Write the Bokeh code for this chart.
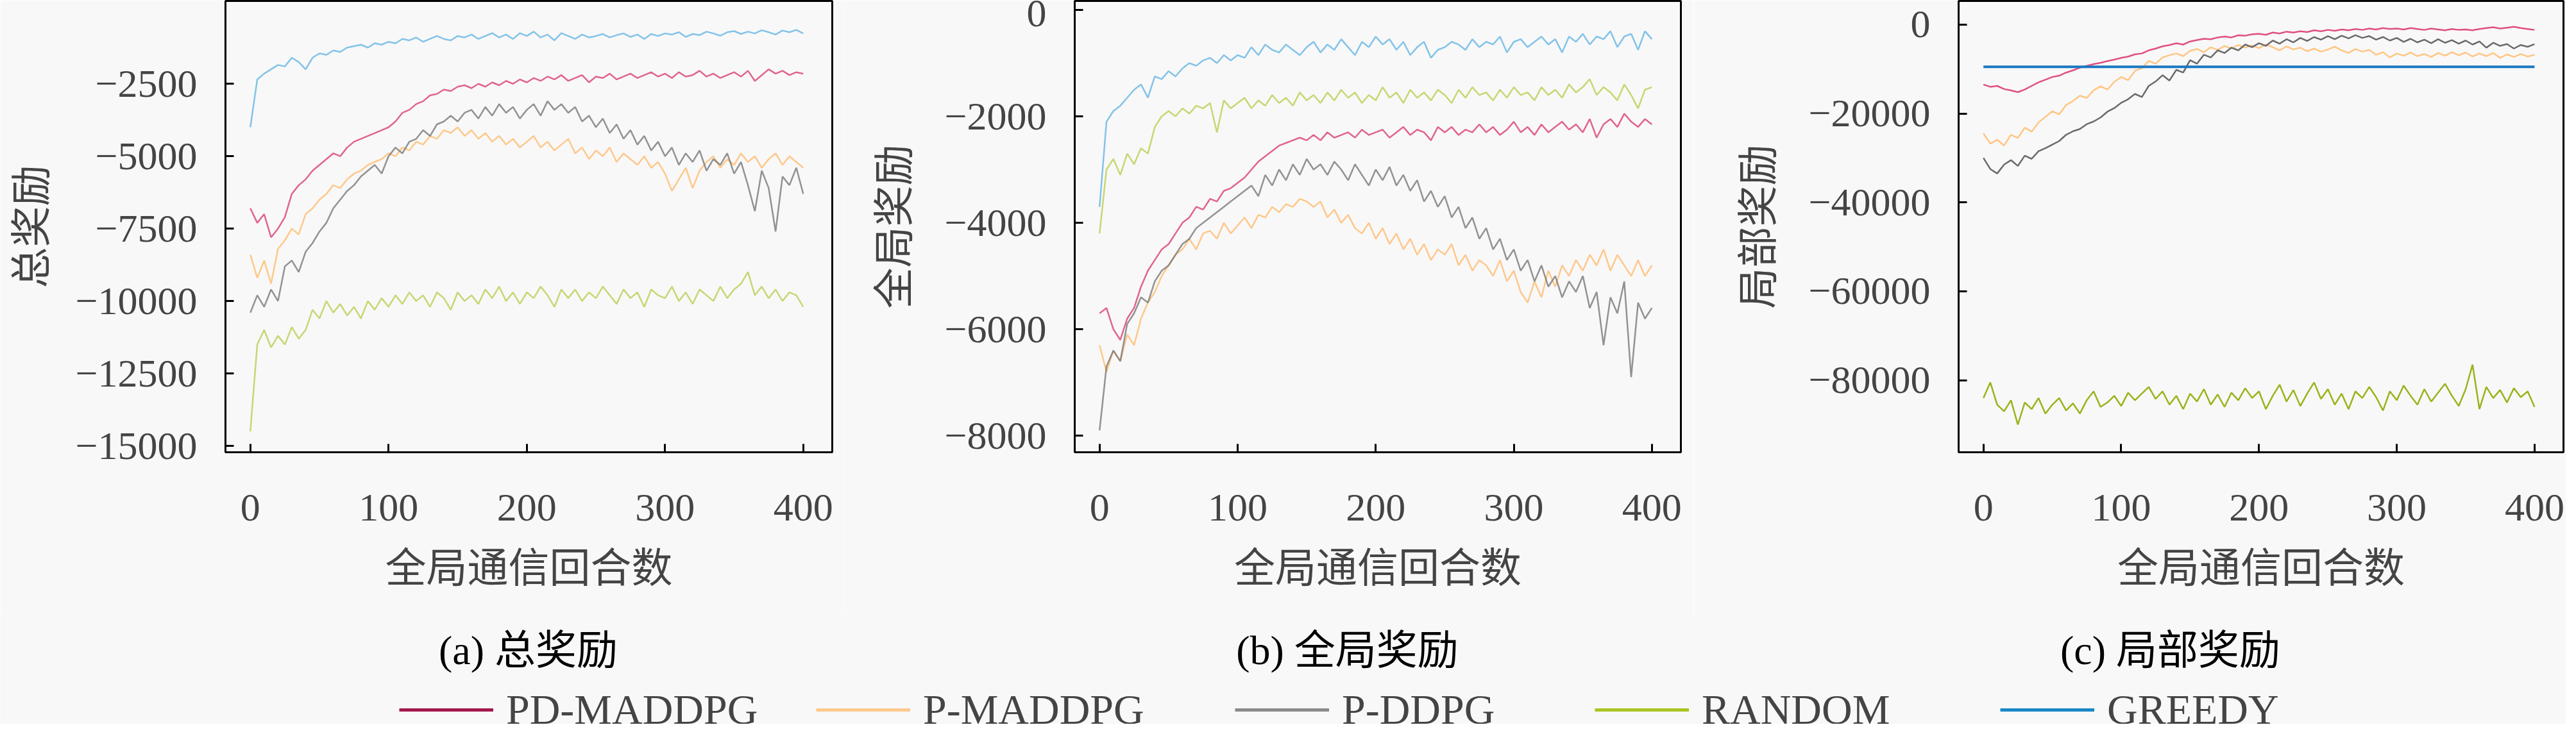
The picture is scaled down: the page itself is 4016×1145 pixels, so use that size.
from bokeh.core.properties import value
from bokeh.embed import file_html
from bokeh.layouts import column, row
from bokeh.models import FixedTicker, Legend, LegendItem, Range1d
from bokeh.plotting import figure
from bokeh.resources import INLINE

# episodes (global communication rounds), sampled every 5 rounds
EPISODES = list(range(0, 401, 5))
XTICKS = [0, 100, 200, 300, 400]
NAMES = ["PD-MADDPG", "P-MADDPG", "P-DDPG", "RANDOM", "GREEDY"]
SUBCAPTIONS = ["(a) 总奖励", "(b) 全局奖励", "(c) 局部奖励"]

# (a) total reward
A_PD_MADDPG = [
    -6800, -7300, -7000, -7800, -7500, -7100, -6300, -6000, -5800, -5500,
    -5300, -5100, -4900, -5000, -4700, -4500, -4400, -4300, -4200, -4100,
    -4000, -3800, -3500, -3400, -3200, -3100, -2900, -2850, -2700, -2750,
    -2600, -2550, -2650, -2500, -2600, -2450, -2550, -2400, -2500, -2350,
    -2450, -2300, -2400, -2250, -2350, -2200, -2400, -2300, -2200, -2450,
    -2250, -2300, -2150, -2350, -2250, -2150, -2300, -2200, -2100, -2250,
    -2150, -2300, -2100, -2250, -2200, -2050, -2250, -2150, -2300, -2200,
    -2100, -2250, -2050, -2400, -2200, -2000, -2150, -2050, -2200, -2100,
    -2150]
A_P_MADDPG = [
    -8400, -9200, -8600, -9400, -8200, -7900, -7500, -7700, -7000, -6800,
    -6500, -6300, -6000, -6100, -5800, -5600, -5500, -5300, -5200, -5100,
    -4900, -5000, -4700, -4800, -4500, -4600, -4300, -4400, -4100, -4200,
    -4000, -4300, -4100, -4400, -4200, -4500, -4300, -4600, -4400, -4700,
    -4500, -4300, -4700, -4500, -4800, -4600, -4400, -4900, -4700, -5100,
    -4800, -5000, -4700, -5200, -4900, -5100, -5300, -5000, -5400, -5200,
    -5600, -6200, -5800, -5400, -6100, -5500, -5200, -5000, -5400, -5100,
    -5300, -4900, -5200, -5000, -5400, -5100, -4900, -5300, -5000, -5200,
    -5400]
A_P_DDPG = [
    -10400, -9800, -10200, -9600, -10000, -8800, -8600, -9000, -8300, -8000,
    -7600, -7300, -6800, -6500, -6200, -6000, -5700, -5500, -5300, -5600,
    -5000, -4700, -4900, -4500, -4400, -4100, -4300, -3900, -3800, -3600,
    -3800, -3500, -3400, -3700, -3300, -3600, -3200, -3500, -3300, -3700,
    -3400, -3200, -3600, -3100, -3400, -3200, -3500, -3300, -3800, -3600,
    -4000, -3700, -4200, -3900, -4400, -4100, -4600, -4300, -4800, -4500,
    -5000, -4700, -5300, -4900, -5200, -4800, -5500, -5100, -5300, -4900,
    -5600, -5200, -6000, -6900, -5500, -6100, -7600, -5700, -6000, -5400,
    -6300]
A_RANDOM = [
    -14500, -11500, -11000, -11600, -11200, -11500, -10900, -11300, -11000, -10300,
    -10600, -10000, -10400, -10100, -10500, -10200, -10600, -10000, -10300, -9900,
    -10200, -9800, -10100, -9700, -10000, -9800, -10200, -9700, -9900, -10300,
    -9700, -10000, -9800, -10100, -9600, -9900, -9500, -10000, -9700, -10100,
    -9700, -9900, -9500, -9800, -10200, -9600, -9900, -9600, -10000, -9700,
    -9900, -9500, -9800, -10100, -9600, -9900, -9700, -10200, -9600, -9800,
    -9900, -9500, -10000, -9700, -10100, -9600, -9800, -10000, -9500, -9900,
    -9600, -9400, -9000, -9800, -9500, -9900, -9600, -10000, -9700, -9800,
    -10200]
A_GREEDY = [
    -4000, -2350, -2150, -2000, -1850, -1900, -1600, -1750, -2000, -1600,
    -1450, -1500, -1350, -1400, -1250, -1200, -1150, -1250, -1100, -1150,
    -1050, -1100, -950, -1000, -900, -1050, -950, -850, -950, -1000,
    -850, -900, -800, -950, -850, -750, -900, -800, -950, -750,
    -850, -700, -900, -800, -1000, -750, -850, -950, -800, -900,
    -850, -780, -900, -820, -760, -880, -800, -950, -780, -850,
    -760, -800, -720, -880, -780, -820, -700, -760, -840, -720,
    -680, -780, -700, -760, -650, -720, -800, -660, -720, -640,
    -760]

# (b) global reward
B_PD_MADDPG = [
    -5700, -5600, -6000, -6200, -5800, -5600, -5200, -4900, -4700, -4500,
    -4400, -4200, -4000, -3900, -3700, -3750, -3550, -3600, -3400, -3350,
    -3250, -3150, -3000, -2850, -2750, -2650, -2550, -2500, -2450, -2400,
    -2450, -2350, -2450, -2300, -2400, -2350, -2300, -2400, -2250, -2350,
    -2300, -2250, -2400, -2300, -2200, -2350, -2250, -2300, -2450, -2200,
    -2300, -2200, -2350, -2250, -2300, -2150, -2300, -2200, -2350, -2250,
    -2100, -2300, -2200, -2350, -2150, -2300, -2200, -2100, -2250, -2150,
    -2300, -2050, -2400, -2150, -2050, -2200, -1950, -2100, -2200, -2050,
    -2150]
B_P_MADDPG = [
    -6300, -6800, -6400, -6600, -6100, -6300, -5800, -5500, -5300, -5000,
    -4800, -4600, -4500, -4300, -4500, -4200, -4150, -4300, -4000, -4200,
    -4050, -3900, -4100, -3850, -3900, -3700, -3800, -3650, -3700, -3550,
    -3600, -3700, -3600, -3900, -3750, -4000, -3850, -4100, -4200, -4000,
    -4300, -4100, -4400, -4200, -4500, -4300, -4600, -4400, -4700, -4500,
    -4600, -4400, -4800, -4600, -4900, -4700, -4800, -5000, -4700, -5100,
    -4900, -5300, -5500, -5100, -5400, -4900, -5200, -4800, -5000, -4700,
    -4900, -4600, -4800, -4500, -4900, -4600, -4800, -5000, -4700, -5000,
    -4800]
B_P_DDPG = [
    -7900, -6700, -6400, -6600, -5900, -5700, -5400, -5500, -5100, -4900,
    -4800, -4600, -4400, -4300, -4100, -4000, -3900, -3800, -3700, -3600,
    -3500, -3400, -3300, -3500, -3100, -3300, -3000, -3200, -2900, -3100,
    -2800, -3000, -2900, -3100, -2850, -3000, -3200, -2900, -3100, -3300,
    -3000, -3200, -2950, -3300, -3100, -3400, -3200, -3600, -3400, -3700,
    -3500, -3900, -3700, -4100, -3900, -4300, -4100, -4500, -4300, -4700,
    -4500, -4900, -4700, -5100, -4800, -5200, -5000, -5400, -5100, -5300,
    -5000, -5600, -5300, -6300, -5400, -5700, -5100, -6900, -5500, -5800,
    -5600]
B_RANDOM = [
    -4200, -3000, -2800, -3100, -2700, -2900, -2600, -2700, -2200, -2000,
    -1900, -2000, -1850, -1950, -1800, -1850, -1750, -2300, -1700, -1850,
    -1750, -1650, -1850, -1700, -1800, -1600, -1750, -1650, -1800, -1550,
    -1700, -1600, -1750, -1550, -1700, -1500, -1650, -1550, -1750, -1600,
    -1700, -1450, -1650, -1550, -1750, -1500, -1650, -1550, -1700, -1500,
    -1600, -1750, -1500, -1650, -1450, -1600, -1550, -1700, -1500, -1650,
    -1450, -1600, -1550, -1700, -1450, -1600, -1500, -1650, -1400, -1550,
    -1450, -1300, -1600, -1450, -1550, -1700, -1400, -1600, -1850, -1500,
    -1450]
B_GREEDY = [
    -3700, -2100, -1900, -1800, -1650, -1500, -1400, -1650, -1250, -1300,
    -1150, -1250, -1100, -1000, -1050, -950, -900, -1000, -850, -950,
    -850, -900, -700, -850, -650, -750, -800, -650, -750, -850,
    -700, -600, -800, -650, -750, -550, -700, -850, -600, -700,
    -500, -650, -550, -750, -600, -850, -700, -600, -900, -750,
    -700, -600, -650, -750, -550, -700, -600, -650, -500, -800,
    -600, -550, -700, -600, -500, -650, -550, -800, -500, -600,
    -450, -650, -500, -550, -400, -700, -500, -450, -750, -400,
    -550]

# (c) local reward
C_PD_MADDPG = [
    -13500, -14000, -13800, -14500, -14800, -15200, -14600, -13800, -13000, -12400,
    -11800, -11500, -10800, -10300, -9700, -9300, -8900, -8600, -8200, -7900,
    -7500, -7200, -6700, -6500, -5800, -5400, -4900, -4600, -4200, -4500,
    -3800, -3500, -3200, -3300, -2900, -2700, -2900, -2400, -2500, -2200,
    -2100, -2300, -1800, -2000, -1600, -1800, -1500, -1700, -1300, -1500,
    -1200, -1400, -1100, -1300, -1000, -1200, -900, -1100, -800, -1000,
    -900, -1100, -800, -1000, -1200, -900, -1100, -1300, -1000, -1200,
    -1100, -1300, -1000, -800, -600, -900, -700, -500, -800, -1000,
    -1200]
C_P_MADDPG = [
    -24500, -26800, -25900, -27200, -24800, -25500, -23200, -24100, -22000, -20800,
    -19500, -20200, -18100, -17200, -16000, -16500, -14800, -13900, -14600, -12900,
    -11800, -12500, -10400, -9800, -8200, -8800, -7400, -6900, -6500, -7100,
    -5900, -5500, -6200, -5100, -5700, -4800, -5400, -4600, -5200, -4700,
    -5300, -4500, -5100, -5800, -4900, -5600, -5200, -6000, -5400, -6100,
    -5600, -5000, -5800, -6400, -5500, -6100, -5700, -6800, -6200, -7400,
    -6500, -7000, -6300, -7100, -6600, -7300, -6400, -7000, -6200, -6900,
    -6300, -7200, -6500, -7100, -6400, -7500, -6700, -7300, -6600, -7200,
    -6800]
C_P_DDPG = [
    -30000, -32500, -33500, -31500, -30500, -31800, -29500, -30200, -28500, -27800,
    -27000, -26200, -24800, -24000, -23500, -22400, -21800, -20900, -19600, -18800,
    -17600, -16800, -15600, -16300, -13800, -12800, -11400, -12600, -10200, -10800,
    -8000, -8800, -6800, -7400, -5800, -6400, -5200, -5800, -4500, -5100,
    -4200, -4800, -3600, -4300, -3300, -4000, -3000, -3700, -2800, -3400,
    -2600, -3300, -2500, -3100, -2400, -3000, -2600, -3400, -2800, -3600,
    -3000, -3900, -3200, -4000, -3400, -4200, -3300, -4100, -3500, -4300,
    -3600, -4500, -3800, -5200, -4100, -4800, -4400, -5400, -4600, -5000,
    -4400]
C_RANDOM = [
    -84000, -80500, -85500, -87000, -84500, -90000, -85000, -86500, -84000, -87500,
    -85500, -84000, -86800, -85200, -87500, -84500, -82500, -86000, -85000, -83500,
    -85800, -82800, -84500, -83000, -81500, -84200, -82500, -85500, -83500, -86500,
    -83000, -84800, -82000, -85500, -83200, -86000, -82800, -84500, -81800, -84000,
    -82500, -86500, -83500, -81000, -84800, -82200, -85800, -83000, -80500, -84200,
    -82000, -85500, -83000, -86500, -82500, -84000, -81500, -83800, -86800, -82500,
    -84500, -81200, -83500, -85500, -82000, -84800, -82800, -80800, -83500, -85800,
    -82000, -76500, -86500, -81500, -84000, -82200, -85000, -81800, -83800, -82500,
    -86000]
C_GREEDY_X = [0, 400]
C_GREEDY = [-9500, -9500]

A_YTICKS = [-15000, -12500, -10000, -7500, -5000, -2500]
B_YTICKS = [-8000, -6000, -4000, -2000, 0]
C_YTICKS = [-80000, -60000, -40000, -20000, 0]

BG = "#f8f8f8"
FONT = "Liberation Serif, Noto Sans CJK SC"
COLORS_AB = ["#dc4a7c", "#ffbf78", "#707070", "#c3d264", "#76bce6"]
ALPHAS_AB = [0.85, 0.85, 0.75, 0.9, 0.9]
COLORS_C = ["#e0507f", "#ffc684", "#6a6a6a", "#9cb21a", "#1b78c2"]
LEGEND_COLORS = ["#a3194c", "#fdc98f", "#8a8a8a", "#a9c41f", "#1887c6"]

# bottom strip layout (pixels inside the strip)
STRIP_H = 169
SUB_X = [823, 2100, 3383]
SUB_Y = 115
LEGEND_X = [622, 1272, 1925, 2486, 3118]
LEGEND_Y = -28


def minus(v):
    return "\u2212" + str(-v) if v < 0 else str(v)


def panel(ylabel, yr, yticks, left, fw, right, ylabel_standoff):
    p = figure(frame_width=fw, frame_height=704, min_border_left=left,
               min_border_right=right, min_border_top=1, min_border_bottom=255,
               x_range=Range1d(-18, 421), y_range=Range1d(*yr),
               output_backend="svg", toolbar_location=None, tools="")
    p.background_fill_color = BG
    p.border_fill_color = BG
    p.outline_line_color = "black"
    p.outline_line_width = 3
    p.grid.grid_line_color = None
    p.xaxis.ticker = FixedTicker(ticks=XTICKS)
    p.yaxis.ticker = FixedTicker(ticks=yticks)
    p.yaxis.major_label_overrides = {v: minus(v) for v in yticks}
    p.xaxis.axis_label = "全局通信回合数"
    p.yaxis.axis_label = ylabel
    for ax in (p.xaxis[0], p.yaxis[0]):
        ax.axis_line_color = None
        ax.major_tick_in = 13
        ax.major_tick_out = 0
        ax.major_tick_line_width = 3
        ax.minor_tick_line_color = None
        ax.major_label_text_font = FONT
        ax.major_label_text_font_size = "62px"
        ax.axis_label_text_font = FONT
        ax.axis_label_text_font_size = "64px"
        ax.axis_label_text_font_style = "normal"
    p.xaxis.major_label_standoff = 66
    p.xaxis.axis_label_standoff = 36
    p.yaxis.major_label_standoff = 44
    p.yaxis.axis_label_standoff = ylabel_standoff
    return p


pa = panel("总奖励", (-15220, 360), A_YTICKS, 351, 946, 20, 30)
pb = panel("全局奖励", (-8311, 168), B_YTICKS, 358, 945, 20, 40)
pc = panel("局部奖励", (-96200, 5305), C_YTICKS, 413, 943, 4, 40)

for p, data in ((pa, [A_PD_MADDPG, A_P_MADDPG, A_P_DDPG, A_RANDOM, A_GREEDY]),
                (pb, [B_PD_MADDPG, B_P_MADDPG, B_P_DDPG, B_RANDOM, B_GREEDY])):
    for ys, c, a in zip(data, COLORS_AB, ALPHAS_AB):
        p.line(EPISODES, ys, line_color=c, line_alpha=a, line_width=2.5)

for ys, c in zip([C_PD_MADDPG, C_P_MADDPG, C_P_DDPG, C_RANDOM], COLORS_C):
    pc.line(EPISODES, ys, line_color=c, line_width=2.5)
pc.line(C_GREEDY_X, C_GREEDY, line_color=COLORS_C[4], line_width=4)

# strip under the panels: sub-captions and the shared legend
strip = figure(width=4000, height=STRIP_H, x_range=Range1d(0, 4000),
               y_range=Range1d(0, STRIP_H), min_border=0,
               x_axis_location=None, y_axis_location=None,
               output_backend="svg", toolbar_location=None, tools="")
strip.background_fill_color = BG
strip.border_fill_color = BG
strip.outline_line_color = None
strip.grid.grid_line_color = None
strip.text(x=SUB_X, y=[SUB_Y] * 3, text=SUBCAPTIONS, text_align="center",
           text_baseline="middle", text_font=value(FONT),
           text_font_size="64px", text_color="black")
for name, c, lx in zip(NAMES, LEGEND_COLORS, LEGEND_X):
    # sample line kept outside the visible strip, only the legend shows it
    r = strip.line(x=[-3, -2], y=[-3, -2], line_color=c, line_width=5)
    lg = Legend(items=[LegendItem(label=name, renderers=[r])],
                orientation="horizontal", location=(lx, LEGEND_Y),
                background_fill_alpha=0, border_line_color=None, padding=0,
                margin=0, glyph_width=147, glyph_height=100, label_height=100,
                label_standoff=20, label_text_font=FONT,
                label_text_font_size="66px")
    strip.add_layout(lg, "center")

layout = column(row(pa, pb, pc), strip)
open("out.html", "w").write(file_html(layout, INLINE))
